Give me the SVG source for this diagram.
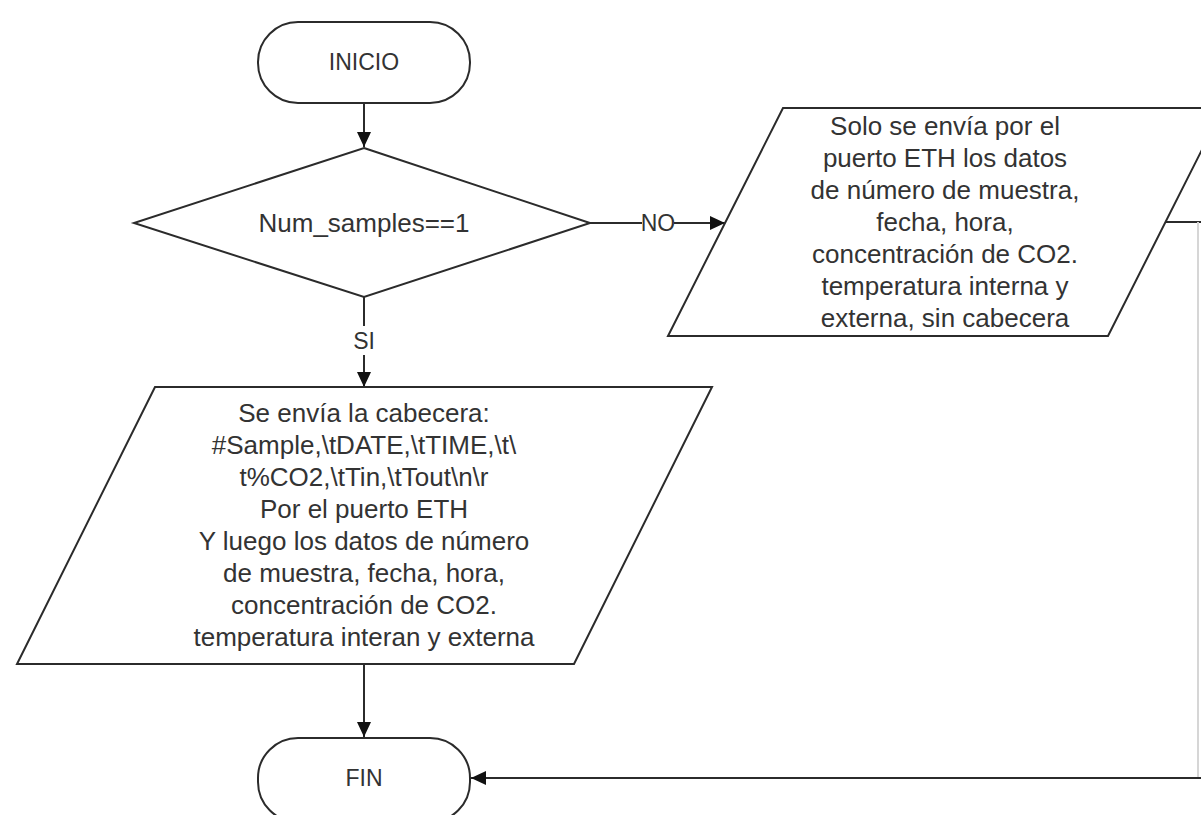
<svg xmlns="http://www.w3.org/2000/svg" width="1201" height="815" viewBox="0 0 1201 815">
  <style>
    .shape { fill: #ffffff; stroke: #2b2b2b; stroke-width: 2; }
    .line { fill: none; stroke: #2b2b2b; stroke-width: 2; }
    .faint { fill: none; stroke: #d6d6d6; stroke-width: 2; }
    .txt { font-family: "Liberation Sans", Arial, sans-serif; font-size: 26px; fill: #333333; text-anchor: middle; }
    .term { font-size: 23px; }
  </style>
  <defs>
    <marker id="arrow" markerUnits="userSpaceOnUse" markerWidth="16" markerHeight="14" refX="15" refY="7" orient="auto">
      <path d="M0,0 L15,7 L0,14 Z" fill="#111111"/>
    </marker>
  </defs>
  <rect width="1201" height="815" fill="#ffffff"/>

  <!-- connectors -->
  <g id="connectors">
    <line class="line" x1="364" y1="103" x2="364" y2="147" marker-end="url(#arrow)"/>
    <line class="line" x1="590" y1="223" x2="642" y2="223"/>
    <line class="line" x1="674" y1="223" x2="725" y2="223" marker-end="url(#arrow)"/>
    <text class="txt term" x="658" y="231">NO</text>
    <line class="line" x1="364" y1="297" x2="364" y2="326"/>
    <line class="line" x1="364" y1="355" x2="364" y2="387" marker-end="url(#arrow)"/>
    <text class="txt term" x="364" y="349">SI</text>
    <line class="line" x1="364" y1="664" x2="364" y2="737" marker-end="url(#arrow)"/>
    <line class="line" x1="1165" y1="222" x2="1201" y2="222"/>
    <line class="faint" x1="1198" y1="222" x2="1198" y2="778"/>
    <line class="line" x1="1201" y1="778" x2="471" y2="778" marker-end="url(#arrow)"/>
  </g>

  <g id="inicio">
    <rect class="shape" x="258" y="22" width="212" height="81" rx="40" ry="40"/>
    <text class="txt term" x="364" y="70">INICIO</text>
  </g>

  <g id="decision">
    <polygon class="shape" points="364,148 590,223 364,297 134,223"/>
    <text class="txt" x="364" y="232">Num_samples==1</text>
  </g>

  <g id="envio-datos">
    <polygon class="shape" points="783,108 1223,108 1108,336 668,336"/>
    <text class="txt" x="945" y="135">Solo se envía por el</text>
    <text class="txt" x="945" y="167">puerto ETH los datos</text>
    <text class="txt" x="945" y="199">de número de muestra,</text>
    <text class="txt" x="945" y="231">fecha, hora,</text>
    <text class="txt" x="945" y="263">concentración de CO2.</text>
    <text class="txt" x="945" y="295">temperatura interna y</text>
    <text class="txt" x="945" y="327">externa, sin cabecera</text>
  </g>

  <g id="envio-cabecera">
    <polygon class="shape" points="155,387 712,387 574,664 17,664"/>
    <text class="txt" x="364" y="422">Se envía la cabecera:</text>
    <text class="txt" x="364" y="454">#Sample,\tDATE,\tTIME,\t\</text>
    <text class="txt" x="364" y="486">t%CO2,\tTin,\tTout\n\r</text>
    <text class="txt" x="364" y="518">Por el puerto ETH</text>
    <text class="txt" x="364" y="550">Y luego los datos de número</text>
    <text class="txt" x="364" y="582">de muestra, fecha, hora,</text>
    <text class="txt" x="364" y="614">concentración de CO2.</text>
    <text class="txt" x="364" y="646">temperatura interan y externa</text>
  </g>

  <g id="fin">
    <rect class="shape" x="258" y="738" width="212" height="84" rx="40" ry="40"/>
    <text class="txt term" x="364" y="786">FIN</text>
  </g>
</svg>
